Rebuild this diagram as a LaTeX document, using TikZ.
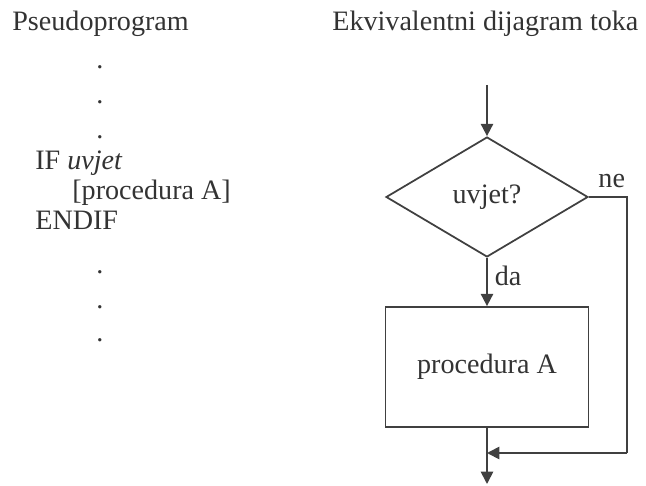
\documentclass[tikz,border=0pt]{standalone}
\usepackage{fontspec}
\setmainfont{Liberation Serif}
\usetikzlibrary{arrows.meta,shapes.geometric}

\begin{document}
\begin{tikzpicture}[x=0.02cm, y=-0.02cm,
	tekst/.style={text=black!80, font=\fontsize{16}{18}\selectfont, inner sep=0pt},
	linija/.style={line width=1pt, draw=black!75},
	strelica/.style={linija, -{Triangle[length=7pt, width=7pt]}},
	odluka/.style={tekst, diamond, draw=black!75, line width=1pt, minimum width=4.04cm, minimum height=2.4cm},
	blok/.style={tekst, rectangle, draw=black!75, line width=1pt, minimum width=4.06cm, minimum height=2.4cm}]
	%%%%% START %%%%%
	
	\useasboundingbox (0, 0) rectangle (646, 486);
	
	% pseudoprogram
	\node[tekst, anchor=base west] (naslovP) at (12, 31) {Pseudoprogram};
	\foreach \y in {67, 102, 137, 272, 307, 340}
		\node[tekst] (tocka\y) at (100, \y) {.};
	\node[tekst, anchor=base west] (akoL) at (35, 170) {IF \textit{uvjet}};
	\node[tekst, anchor=base west] (procL) at (72, 200) {[procedura A]};
	\node[tekst, anchor=base west] (krajL) at (35, 230) {ENDIF};
	
	% dijagram toka
	\node[tekst, anchor=base west] (naslovD) at (332, 31) {Ekvivalentni dijagram toka};
	
	\coordinate (ulaz) at (487, 85);
	\node[odluka] (uvjet) at (487, 197) {uvjet?};
	\node[blok] (procA) at (487, 367) {procedura A};
	\coordinate (kut1) at (627, 197);
	\coordinate (kut2) at (627, 453);
	\coordinate (spoj) at (487, 453);
	\coordinate (izlaz) at (487, 484);
	
	\draw[strelica] (ulaz) -- (uvjet.north);
	\draw[strelica] (uvjet.south) -- node[tekst, right=4pt, pos=0.38] (da) {da} (procA.north);
	\draw[linija] (uvjet.east) -- node[tekst, above=5pt, pos=0.6] (ne) {ne} (kut1) -- (kut2);
	\draw[strelica] (kut2) -- (spoj);
	\draw[strelica] (procA.south) -- (izlaz);
	
	%%%%% END %%%%%
\end{tikzpicture}
\end{document}
